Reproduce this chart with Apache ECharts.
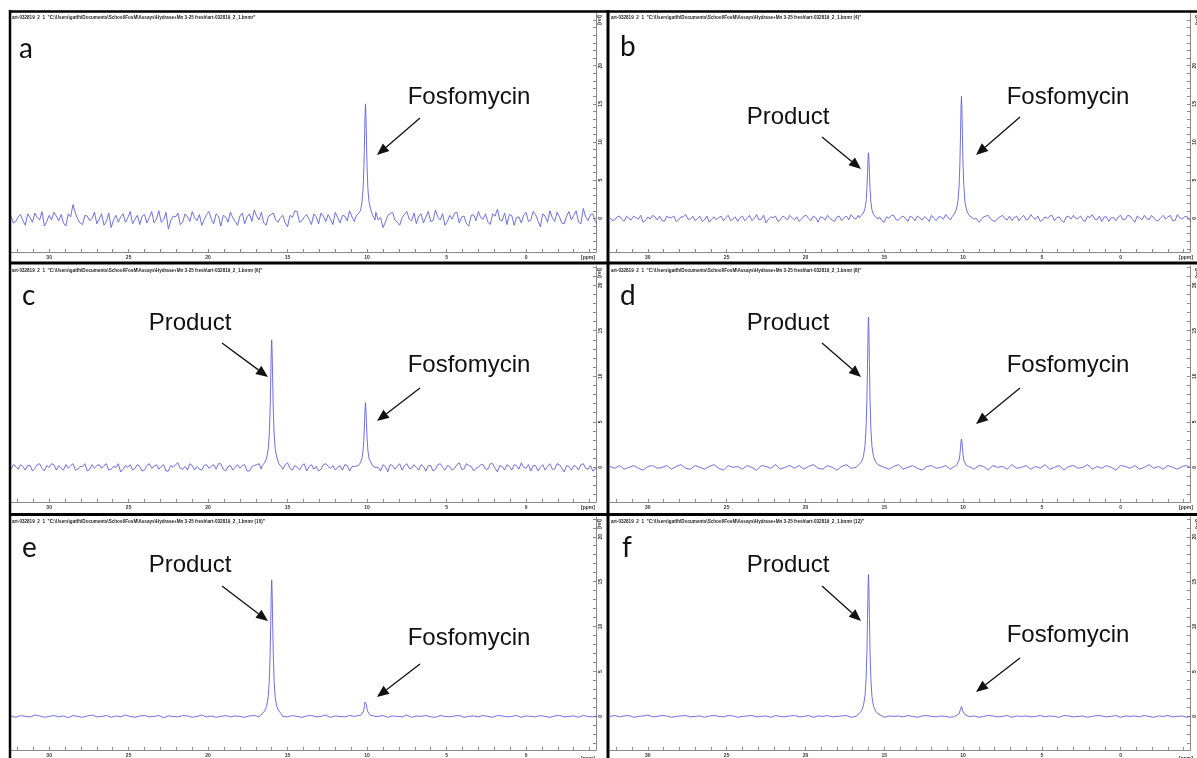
<!DOCTYPE html>
<html><head><meta charset="utf-8">
<script src="https://cdn.jsdelivr.net/npm/echarts@6/dist/echarts.min.js"></script>
<style>html,body{margin:0;padding:0;background:#fff}#c{width:1197px;height:758px}</style>
</head><body><div id="c"></div>
<script>
// ---------- DATA ----------
// baseline points on a regular ppm grid: ppmStart, ppmStart-ppmStep, ...
// "mid" arrays are read at the half-steps between those grid points
const ppmStart = 32.4, ppmStep = 0.3;

const noiseA = [0.3,-0.4,0.5,-0.9,0.1,0.7,-0.2,-1.0,0.4,0.8,
 -0.3,-0.6,0.6,1.8,-0.1,-0.8,0.3,0.0,-0.7,0.6,
 -0.4,-1.2,0.4,0.2,-0.5,0.9,-0.1,-0.8,0.5,0.1,
 -0.6,1.0,-0.2,-1.4,0.3,0.7,-0.5,0.2,0.9,-0.3,
 -0.9,0.5,-0.1,0.6,-1.0,0.2,0.8,-0.4,0.3,-0.7,
 0.6,1.1,-0.2,-0.6,0.3,0.7,-0.5,0.4,-1.1,0.1,
 0.9,-0.3,0.5,-0.8,0.2,0.7,-0.4,-0.1,0.8,-0.6,
 0.3,1.0,-0.4,0.5,-0.9,0.2,0.6,-0.2,-1.2,0.4,
 0.8,-0.5,0.1,0.9,-0.3,-0.7,0.6,0.2,-0.4,1.1,
 -0.2,-0.9,0.4,0.7,-0.6,0.3,-1.0,0.5,0.9,-0.1,
 -0.5,0.6,1.2,-0.3,-0.8,0.4,0.1,-0.6,0.8,-0.2,
 0.5,-1.1,0.3,1.0,-0.4,0.2,-0.7,0.9,0.4,-0.5,
 1.3,-0.3,0.6,-0.9];
const midA = [-0.6,0.2,-0.3,0.6,-0.5,0.1,0.9,-0.4,-0.2,0.3,
 0.5,-1.0,0.2,0.7,-0.6,0.4,-0.3,0.8,-0.1,-0.9,
 0.7,-0.2,-0.5,0.6,0.1,-0.7,0.4,0.3,-0.6,0.9,
 -0.1,-0.5,0.8,-0.3,0.2,-0.8,0.6,-0.4,0.1,0.5,
 -0.2,0.9,-0.7,0.3,0.4,-0.5,0.1,-0.9,0.7,0.2,
 -0.4,0.3,0.8,-0.9,0.5,-0.2,0.1,-0.6,0.4,1.0,
 -0.5,0.2,-0.1,0.6,-0.7,0.3,0.5,-0.8,0.1,0.4,
 -0.3,0.2,0.9,-0.6,0.3,-0.4,0.8,0.1,-0.5,0.6,
 -0.2,-0.9,0.5,-0.1,0.7,0.3,-0.6,0.9,-0.3,0.2,
 0.6,-0.4,-0.1,0.8,0.2,-0.7,0.4,-0.3,0.1,0.6,
 -0.8,0.3,-0.2,0.7,0.5,-0.9,0.2,0.4,-0.4,0.9,
 -0.3,0.6,-0.5,0.1,0.8,-0.6,0.3,-0.2,1.0,-0.7,
 0.2,0.5,-0.4];
const noiseB = [0.1,-0.2,0.3,-0.4,0.0,0.3,-0.1,-0.5,0.2,0.4,
 -0.2,-0.3,0.3,0.1,-0.4,0.2,0.5,-0.1,-0.3,0.3,
 -0.2,-0.5,0.2,0.1,-0.3,0.4,-0.1,-0.4,0.3,0.0,
 -0.3,0.5,-0.1,-0.6,0.2,0.3,-0.2,0.1,0.4,-0.2,
 -0.4,0.3,0.0,0.3,-0.5,0.1,0.4,-0.2,0.2,-0.3,
 0.3,0.5,-0.1,-0.3,0.2,0.4,-0.3,0.2,-0.5,0.0,
 0.4,-0.2,0.3,-0.4,0.1,0.3,-0.2,0.0,0.4,-0.3,
 0.2,0.5,-0.2,0.3,-0.4,0.1,0.3,-0.1,-0.5,0.2,
 0.4,-0.3,0.0,0.4,-0.2,-0.3,0.3,0.1,-0.2,0.5,
 -0.1,-0.4,0.2,0.3,-0.3,0.2,-0.5,0.3,0.4,0.0,
 -0.2,0.3,0.5,-0.2,-0.4,0.2,0.1,-0.3,0.4,-0.1,
 0.3,-0.5,0.1,0.4,-0.2,0.1,-0.3,0.4,0.2,-0.3,
 0.5,-0.1,0.3,-0.4];
const midB = [-0.3,0.2,-0.1,0.3,-0.2,0.1,0.4,-0.3,-0.1,0.2,
 0.3,-0.4,0.1,0.3,-0.2,0.2,-0.1,0.3,0.0,-0.4,
 0.3,-0.1,-0.2,0.3,0.1,-0.3,0.2,0.1,-0.3,0.4,
 0.0,-0.2,0.4,-0.1,0.1,-0.4,0.3,-0.2,0.1,0.2,
 -0.1,0.4,-0.3,0.1,0.2,-0.2,0.0,-0.4,0.3,0.1,
 -0.2,0.1,0.4,-0.4,0.2,-0.1,0.0,-0.3,0.2,0.4,
 -0.2,0.1,0.0,0.3,-0.3,0.1,0.2,-0.4,0.0,0.2,
 -0.1,0.1,0.4,-0.3,0.1,-0.2,0.3,0.0,-0.2,0.3,
 -0.1,-0.4,0.2,0.0,0.3,0.1,-0.3,0.4,-0.1,0.1,
 0.3,-0.2,0.0,0.4,0.1,-0.3,0.2,-0.1,0.0,0.3,
 -0.4,0.1,-0.1,0.3,0.2,-0.4,0.1,0.2,-0.2,0.4,
 -0.1,0.3,-0.2,0.0,0.4,-0.3,0.1,-0.1,0.4,-0.3,
 0.1,0.2,-0.2];
const noiseC = [-0.2,0.1,0.3,-0.3,0.2,-0.1,0.4,-0.4,0.0,0.3,
 0.2,-0.3,-0.1,0.4,-0.2,0.1,-0.4,0.3,0.2,-0.1,
 0.4,-0.2,0.0,-0.5,0.2,0.3,-0.1,0.1,-0.3,0.4,
 0.1,-0.2,0.3,-0.4,0.0,0.5,-0.2,-0.3,0.2,0.1,
 -0.3,0.3,0.1,-0.2,0.4,-0.4,0.2,0.0,-0.1,0.3,
 -0.4,0.2,0.4,-0.1,-0.3,0.1,0.3,-0.2,0.5,-0.3,
 0.0,0.2,-0.4,0.3,0.1,-0.2,0.4,-0.1,-0.3,0.2,
 0.3,-0.4,0.1,0.2,-0.2,0.4,-0.3,0.0,0.3,-0.5,
 0.2,0.1,-0.3,0.4,-0.1,0.0,0.3,-0.4,0.2,-0.2,
 0.4,-0.3,0.1,-0.1,0.5,-0.2,0.2,-0.4,0.0,0.3,
 -0.2,0.4,-0.5,0.1,0.3,-0.3,0.2,0.5,-0.1,-0.4,
 0.2,0.0,-0.3,0.4,-0.2,0.3,-0.5,0.1,0.2,-0.3,
 0.4,-0.2,-0.4,0.1];
const midC = [0.3,-0.2,0.1,0.2,-0.4,0.3,-0.1,0.2,0.4,-0.3,
 -0.1,0.3,0.2,-0.3,0.1,0.4,-0.2,-0.1,0.3,0.2,
 -0.3,0.1,0.4,-0.2,0.0,-0.3,0.3,-0.4,0.2,-0.1,
 0.3,0.1,-0.4,0.2,0.3,-0.1,0.1,0.4,-0.3,-0.2,
 0.2,-0.1,0.3,0.4,-0.2,0.1,-0.3,0.3,0.2,-0.4,
 0.1,0.3,-0.2,0.2,0.4,-0.3,0.0,0.3,-0.1,0.2,
 -0.3,0.4,0.1,-0.2,-0.4,0.3,0.1,0.2,0.0,-0.3,
 0.2,0.1,-0.3,0.4,0.3,-0.1,0.2,-0.4,0.1,0.3,
 -0.2,0.4,0.2,-0.1,0.3,-0.3,0.1,0.2,-0.4,0.3,
 0.0,0.2,-0.3,0.3,-0.2,0.4,0.1,-0.1,0.3,-0.2,
 0.4,-0.1,0.2,-0.3,0.1,0.3,-0.2,0.0,0.3,0.2,
 -0.4,0.3,0.1,-0.2,0.4,-0.1,0.2,-0.3,0.1,0.3,
 -0.1,0.2,-0.2];
const noiseD = [0.1,-0.1,0.2,-0.2,0.0,0.2,-0.1,-0.3,0.1,0.2,
 -0.1,0.0,0.2,-0.2,0.1,0.3,-0.1,-0.2,0.2,0.0,
 -0.2,0.1,0.3,-0.1,-0.3,0.2,0.0,0.1,-0.2,0.2,
 0.0,-0.3,0.2,0.1,-0.1,0.3,-0.2,0.0,0.2,-0.1,
 0.2,-0.2,0.1,0.3,-0.1,-0.2,0.2,0.0,-0.3,0.1,
 0.3,-0.1,0.0,0.2,-0.2,0.1,-0.1,0.2,0.0,-0.2,
 0.1,0.3,-0.2,0.0,0.2,-0.1,-0.3,0.1,0.2,-0.1,
 0.0,0.2,-0.2,0.3,-0.1,0.1,0.0,-0.2,0.2,0.1,
 -0.3,0.2,0.0,0.1,-0.2,0.3,-0.1,0.0,0.2,-0.2,
 0.1,-0.1,0.3,-0.2,0.0,0.2,-0.3,0.1,0.2,-0.1,
 0.0,0.3,-0.2,0.1,-0.1,0.2,0.0,-0.3,0.2,0.1,
 -0.1,0.2,-0.2,0.0,0.3,-0.1,0.1,-0.2,0.2,0.0,
 -0.2,0.1,0.2,-0.1];
const noiseE = [0.05,-0.1,0.1,0.0,-0.05,0.15,0.05,-0.1,0.0,0.1,
 -0.05,0.05,-0.15,0.1,0.0,-0.1,0.05,0.15,-0.05,0.0,
 0.1,-0.1,0.05,-0.05,0.15,0.0,-0.1,0.05,0.1,-0.05,
 0.0,0.1,-0.15,0.05,0.0,-0.05,0.1,0.05,-0.1,0.0,
 0.15,-0.05,0.05,-0.1,0.0,0.1,-0.05,0.05,0.0,-0.1,
 0.05,0.1,-0.05,0.0,0.2,-0.1,0.05,0.0,-0.05,0.1,
 0.0,-0.1,0.05,0.1,-0.05,0.0,0.15,-0.1,0.05,0.0,
 -0.05,0.1,0.0,-0.1,0.05,0.1,-0.05,0.0,0.1,-0.1,
 0.05,0.0,-0.05,0.15,-0.1,0.05,0.0,0.1,-0.05,-0.1,
 0.1,0.0,-0.05,0.05,0.1,-0.1,0.0,0.05,-0.05,0.1,
 0.0,-0.1,0.1,0.05,-0.05,0.0,0.1,-0.1,0.05,0.0,
 -0.05,0.1,0.0,-0.1,0.05,0.1,-0.05,0.0,0.05,-0.1,
 0.1,0.0,-0.05,0.05];
const noiseF = [0.0,0.1,-0.05,0.05,0.1,-0.1,0.0,0.05,0.15,-0.05,
 0.0,0.1,0.05,-0.1,0.0,0.05,0.1,-0.05,0.0,0.05,
 -0.1,0.05,0.1,0.0,-0.05,0.1,0.05,-0.1,0.0,0.05,
 0.1,-0.05,0.0,0.05,-0.1,0.1,0.0,-0.05,0.05,0.1,
 -0.05,0.0,0.1,-0.1,0.05,0.0,0.1,-0.05,0.0,0.05,
 0.1,-0.1,0.0,0.05,0.1,-0.05,0.0,0.1,-0.1,0.05,
 0.0,0.05,-0.05,0.1,0.0,-0.1,0.05,0.1,0.0,-0.05,
 0.05,0.0,-0.1,0.05,0.1,0.0,-0.05,0.05,-0.1,0.0,
 0.1,0.05,-0.05,0.0,0.1,-0.1,0.05,0.0,0.05,-0.05,
 0.0,0.1,-0.05,0.05,0.0,-0.1,0.1,0.05,-0.05,0.0,
 0.05,-0.1,0.0,0.1,0.05,-0.05,0.0,0.1,-0.1,0.05,
 0.0,0.05,-0.05,0.1,0.0,-0.1,0.05,0.0,0.1,-0.05,
 0.0,0.05,-0.1,0.05];

// peak points [ppm, rel], highest ppm first
const fosA  = [[10.7,0.3],[10.55,0.6],[10.42,1.0],[10.32,2.1],[10.25,4.0],[10.2,6.8],[10.16,10.3],[10.13,13.5],[10.1,15.0],[10.07,13.4],[10.04,10.4],[10.0,6.7],[9.95,3.9],[9.88,2.2],[9.78,1.2],[9.65,0.4],[9.5,-0.2]];
const prodB = [[16.6,0.1],[16.45,0.4],[16.32,0.7],[16.22,1.3],[16.15,2.3],[16.1,3.9],[16.06,6.0],[16.03,7.8],[16.0,8.6],[15.97,7.7],[15.94,5.9],[15.9,3.8],[15.85,2.2],[15.78,1.1],[15.68,0.5],[15.55,0.2],[15.4,-0.1]];
const fosB  = [[10.7,0.2],[10.55,0.6],[10.42,1.2],[10.32,2.3],[10.25,4.2],[10.2,7.2],[10.16,11.0],[10.13,14.4],[10.1,16.0],[10.07,14.3],[10.04,11.1],[10.0,7.1],[9.95,4.3],[9.88,2.2],[9.78,1.1],[9.65,0.5],[9.5,0.2]];
const prodC = [[16.6,0.2],[16.45,0.5],[16.32,1.0],[16.22,2.0],[16.15,3.7],[16.1,6.3],[16.06,9.7],[16.03,12.6],[16.0,14.0],[15.97,12.5],[15.94,9.6],[15.9,6.3],[15.85,3.8],[15.78,2.0],[15.68,1.1],[15.55,0.4],[15.4,0.1]];
const fosC  = [[10.7,0.1],[10.55,0.2],[10.42,0.5],[10.32,1.0],[10.25,1.9],[10.2,3.2],[10.16,4.9],[10.13,6.4],[10.1,7.1],[10.07,6.3],[10.04,4.9],[10.0,3.2],[9.95,1.9],[9.88,1.0],[9.78,0.6],[9.65,0.2],[9.5,0.0]];
const prodD = [[16.6,0.3],[16.45,0.6],[16.32,1.2],[16.22,2.4],[16.15,4.4],[16.1,7.4],[16.06,11.4],[16.03,14.8],[16.0,16.5],[15.97,14.9],[15.94,11.3],[15.9,7.4],[15.85,4.3],[15.78,2.3],[15.68,1.2],[15.55,0.6],[15.4,0.3]];
const fosD  = [[10.7,0.0],[10.55,0.1],[10.42,0.2],[10.32,0.4],[10.25,0.8],[10.2,1.4],[10.16,2.1],[10.13,2.8],[10.1,3.1],[10.07,2.8],[10.04,2.2],[10.0,1.4],[9.95,0.8],[9.88,0.5],[9.78,0.2],[9.65,0.1],[9.5,0.0]];
const prodE = [[16.6,0.3],[16.45,0.6],[16.32,1.1],[16.22,2.2],[16.15,4.0],[16.1,6.8],[16.06,10.5],[16.03,13.7],[16.0,15.2],[15.97,13.6],[15.94,10.4],[15.9,6.9],[15.85,4.0],[15.78,2.1],[15.68,1.1],[15.55,0.6],[15.4,0.3]];
const fosE  = [[10.7,0.0],[10.55,0.1],[10.42,0.1],[10.32,0.3],[10.25,0.5],[10.2,0.8],[10.16,1.2],[10.13,1.6],[10.1,1.8],[10.07,1.6],[10.04,1.3],[10.0,0.8],[9.95,0.5],[9.88,0.3],[9.78,0.1],[9.65,0.1],[9.5,0.0]];
const prodF = [[16.6,0.3],[16.45,0.6],[16.32,1.2],[16.22,2.3],[16.15,4.2],[16.1,7.1],[16.06,10.9],[16.03,14.2],[16.0,15.8],[15.97,14.1],[15.94,10.9],[15.9,7.1],[15.85,4.2],[15.78,2.2],[15.68,1.1],[15.55,0.6],[15.4,0.3]];
const fosF  = [[10.7,0.0],[10.55,0.0],[10.42,0.1],[10.32,0.2],[10.25,0.3],[10.2,0.5],[10.16,0.8],[10.13,1.0],[10.1,1.1],[10.07,1.0],[10.04,0.8],[10.0,0.5],[9.95,0.3],[9.88,0.2],[9.78,0.1],[9.65,0.0],[9.5,0.0]];

const xLabels = [30,25,20,15,10,5,0];
const xTicks = [32,31,30,29,28,27,26,25,24,23,22,21,20,19,18,17,16,15,14,13,12,11,10,9,8,7,6,5,4,3,2,1,0,-1,-2,-3,-4];
const yLabels = [0,5,10,15,20];
const yTicks = [-4,-3,-2,-1,0,1,2,3,4,5,6,7,8,9,10,11,12,13,14,15,16,17,18,19,20,21,22,23,24,25,26];
const letters = ['a','b','c','d','e','f'];
const headerBase = 'art-032819  2  1  "C:\\Users\\gatfh\\Documents\\School\\FosM\\Assays\\Hydrase+Mn 3-25 fresh\\art-032819_2_1.bnmr';
const headerSuffix = ['', ' (4)', ' (6)', ' (8)', ' (10)', ' (12)'];
const spectra = [
  {noise: noiseA, mid: midA, peaks: [fosA]},
  {noise: noiseB, mid: midB, peaks: [prodB, fosB]},
  {noise: noiseC, mid: midC, peaks: [prodC, fosC]},
  {noise: noiseD, mid: null, peaks: [prodD, fosD]},
  {noise: noiseE, mid: null, peaks: [prodE, fosE]},
  {noise: noiseF, mid: null, peaks: [prodF, fosF]}
];

// ---------- LAYOUT ----------
const colLeft = [11, 610], colWidth = [585, 584];
const rowTop = [13, 266, 517], rowHeight = [239, 236, 236];
const rowY = [[-4.4, 26.9], [-3.8, 22.1], [-3.74, 22.2]];
const lineColor = '#5f5fe6';

// annotations: [text, textX, textY, arrow x1,y1,x2,y2]
const notes = [
  [['Fosfomycin', 469, 97, 420, 118, 377, 155]],
  [['Product', 788, 117, 822, 137, 861, 169], ['Fosfomycin', 1068, 97, 1020, 117, 976, 155]],
  [['Product', 190, 323, 222, 343, 268, 377], ['Fosfomycin', 469, 365, 420, 388, 377, 421]],
  [['Product', 788, 323, 822, 343, 861, 377], ['Fosfomycin', 1068, 365, 1020, 388, 976, 424]],
  [['Product', 190, 565, 222, 586, 268, 621], ['Fosfomycin', 469, 638, 420, 664, 377, 697]],
  [['Product', 788, 565, 822, 586, 861, 621], ['Fosfomycin', 1068, 635, 1020, 658, 976, 692]]
];
const letterPos = [[19, 49], [620, 47], [22, 296], [620, 296], [22, 548], [622, 548]];

function buildSpectrum(noise, mid, peaks) {
  const pts = [];
  const inPeak = x => peaks.some(p => x <= p[0][0] && x >= p[p.length - 1][0]);
  noise.forEach((v, i) => {
    const x = +(ppmStart - i * ppmStep).toFixed(3);
    if (!inPeak(x)) pts.push([x, v]);
  });
  if (mid) mid.forEach((v, i) => {
    const x = +(ppmStart - ppmStep / 2 - i * ppmStep).toFixed(3);
    if (!inPeak(x)) pts.push([x, v]);
  });
  peaks.forEach(p => p.forEach(q => pts.push(q)));
  pts.sort((a, b) => b[0] - a[0]);
  return pts;
}

const grids = [], xAxes = [], yAxes = [], series = [], graphics = [];
spectra.forEach((s, i) => {
  const col = i % 2, row = Math.floor(i / 2);
  grids.push({left: colLeft[col], top: rowTop[row], width: colWidth[col], height: rowHeight[row], containLabel: false});
  xAxes.push({
    type: 'value', gridIndex: i, inverse: true, min: -4.4, max: 32.4, position: 'bottom',
    axisLine: {show: true, onZero: false, lineStyle: {color: '#8a8a8a', width: 1}},
    axisTick: {show: true, inside: true, length: 3, customValues: xTicks, lineStyle: {color: '#8a8a8a'}},
    axisLabel: {show: true, customValues: xLabels, fontSize: 5, fontWeight: 'bold', color: '#333', margin: 3, fontFamily: 'Liberation Sans'},
    splitLine: {show: false}
  });
  yAxes.push({
    type: 'value', gridIndex: i, position: 'right', min: rowY[row][0], max: rowY[row][1],
    axisLine: {show: true, onZero: false, lineStyle: {color: '#8a8a8a', width: 1}},
    axisTick: {show: true, inside: true, length: 3, customValues: yTicks, lineStyle: {color: '#8a8a8a'}},
    axisLabel: {show: true, customValues: yLabels, fontSize: 5, fontWeight: 'bold', color: '#333', margin: 2, rotate: 90, fontFamily: 'Liberation Sans'},
    splitLine: {show: false}
  });
  series.push({
    type: 'line', xAxisIndex: i, yAxisIndex: i, data: buildSpectrum(s.noise, s.mid, s.peaks),
    showSymbol: false, symbol: 'none', clip: true,
    lineStyle: {color: lineColor, width: 0.9}, z: 3
  });

  const gx = colLeft[col], gy = rowTop[row], gw = colWidth[col], gh = rowHeight[row];
  graphics.push({type: 'text', x: gx + 1, y: gy + 5, z: 10,
    style: {text: headerBase + headerSuffix[i] + '"', font: 'bold 4.6px "Liberation Sans"', fill: '#222',
      textAlign: 'left', align: 'left', textVerticalAlign: 'middle', verticalAlign: 'middle'}});
  graphics.push({type: 'text', x: gx + gw - 8, y: gy + gh + 6, z: 10,
    style: {text: '[ppm]', font: 'bold 5px "Liberation Sans"', fill: '#333',
      textAlign: 'center', align: 'center', textVerticalAlign: 'middle', verticalAlign: 'middle'}});
  graphics.push({type: 'text', x: gx + gw + 4, y: gy + 7, rotation: Math.PI / 2, z: 10,
    style: {text: '[rel]', font: 'bold 5px "Liberation Sans"', fill: '#333',
      textAlign: 'center', align: 'center', textVerticalAlign: 'middle', verticalAlign: 'middle'}});
  graphics.push({type: 'text', x: letterPos[i][0], y: letterPos[i][1], z: 10,
    style: {text: letters[i], font: '28px Lato', fill: '#111',
      textAlign: 'left', align: 'left', textVerticalAlign: 'middle', verticalAlign: 'middle'}});
  notes[i].forEach(n => {
    const [t, tx, ty, x1, y1, x2, y2] = n;
    graphics.push({type: 'text', x: tx, y: ty, z: 10,
      style: {text: t, font: '24px "Liberation Sans"', fill: '#111',
        textAlign: 'center', align: 'center', textVerticalAlign: 'middle', verticalAlign: 'middle'}});
    const dx = x2 - x1, dy = y2 - y1, L = Math.sqrt(dx * dx + dy * dy);
    const ux = dx / L, uy = dy / L, hl = 12, hw = 5;
    const bx = x2 - ux * hl, by = y2 - uy * hl;
    graphics.push({type: 'line', z: 10, shape: {x1: x1, y1: y1, x2: bx, y2: by},
      style: {stroke: '#111', lineWidth: 1.3}});
    graphics.push({type: 'polygon', z: 10,
      shape: {points: [[x2, y2], [bx - uy * hw, by + ux * hw], [bx + uy * hw, by - ux * hw]]},
      style: {fill: '#111'}});
  });
});

const divs = [
  [9, 11.5, 1197, 11.5, 2.5],
  [10, 10, 10, 758, 2.5],
  [608, 10, 608, 758, 3],
  [9, 263, 1197, 263, 3],
  [9, 514.5, 1197, 514.5, 3]
];
divs.forEach(d => graphics.push({type: 'line', z: 20, shape: {x1: d[0], y1: d[1], x2: d[2], y2: d[3]},
  style: {stroke: '#000', lineWidth: d[4]}}));

const chart = echarts.init(document.getElementById('c'), null, {renderer: 'canvas'});
chart.setOption({
  animation: false,
  backgroundColor: '#fff',
  grid: grids, xAxis: xAxes, yAxis: yAxes, series: series,
  graphic: {elements: graphics}
});
</script></body></html>
